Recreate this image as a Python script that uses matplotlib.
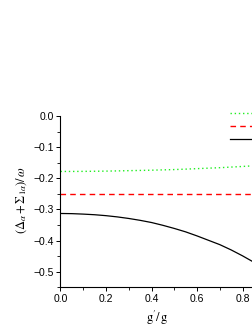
import matplotlib
matplotlib.use("Agg")
import matplotlib.pyplot as plt
from matplotlib.ticker import MultipleLocator

plt.rcParams['mathtext.fontset'] = 'stix'
plt.rcParams['font.family'] = ['Liberation Sans', 'DejaVu Sans']

# data
g_ratio = [0.0, 0.05, 0.1, 0.15, 0.2, 0.25, 0.3, 0.35, 0.4, 0.45, 0.5, 0.55, 0.6, 0.65, 0.7, 0.75, 0.8, 0.846]
sigma = [-0.178, -0.178, -0.1778, -0.1774, -0.177, -0.1763, -0.1755, -0.1748, -0.174, -0.173, -0.172,
         -0.1706, -0.169, -0.1675, -0.166, -0.164, -0.162, -0.160]
delta = [-0.250] * 18
total = [-0.313, -0.3135, -0.315, -0.317, -0.320, -0.324, -0.329, -0.335, -0.342, -0.351, -0.361,
         -0.372, -0.385, -0.399, -0.413, -0.430, -0.449, -0.468]
labels = [r'$\Sigma_{1\alpha}/\omega$', r'$\Delta_\alpha/\omega$', r'$(\Delta_\alpha+\Sigma_{1\alpha})/\omega$']

fig = plt.figure(figsize=(2.53, 3.27), dpi=100)
ax = fig.add_axes([60.5/253, 1-287.3/327, 1-60.5/253, (287.3-116)/327])

l1, = ax.plot(g_ratio, sigma, color='#22ee22', ls=(0, (1, 2)), lw=1.0)
l2, = ax.plot(g_ratio, delta, color='#ff0000', ls=(0, (4, 3)), lw=1.0)
l3, = ax.plot(g_ratio, total, color='black', ls='-', lw=0.9)

ax.set_xlim(0, 0.846)
ax.set_ylim(-0.55, 0.0)
ax.spines['top'].set_visible(False)
ax.spines['right'].set_visible(False)
for s in ('left', 'bottom'):
    ax.spines[s].set_linewidth(0.8)
ax.xaxis.set_major_locator(MultipleLocator(0.2))
ax.xaxis.set_minor_locator(MultipleLocator(0.1))
ax.yaxis.set_major_locator(MultipleLocator(0.1))
ax.yaxis.set_minor_locator(MultipleLocator(0.05))
ax.tick_params(which='major', direction='out', length=3, width=0.7, labelsize=7.5, pad=2)
ax.tick_params(which='minor', direction='out', length=2, width=0.6)
ax.xaxis.set_major_formatter(matplotlib.ticker.FormatStrFormatter('%.1f'))
ax.yaxis.set_major_formatter(matplotlib.ticker.FuncFormatter(lambda v, p: ('%.1f' % v).replace('-', '\u2212')))

ax.set_xlabel(r"$\mathrm{g}'/\,\mathrm{g}$", fontsize=9, labelpad=3)
fig.text(22/253, 1-200/327, r'$(\Delta_\alpha+\Sigma_{1\alpha})/\,\omega$', rotation=90,
         ha='center', va='center', fontsize=9)

fig.legend([l1, l2, l3], labels, loc='upper left', bbox_to_anchor=(230/253, 1-108/327),
           frameon=False, borderpad=0, borderaxespad=0, handlelength=3, fontsize=7.5,
           labelspacing=0.0, handletextpad=0.5)

fig.savefig('out.png', dpi=100)
